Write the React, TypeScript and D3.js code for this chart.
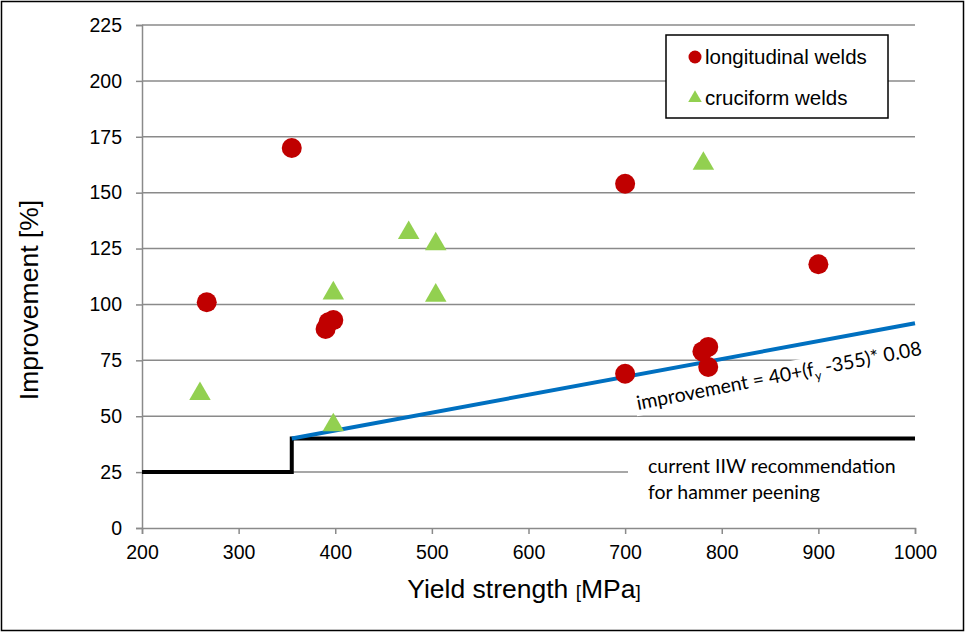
import * as d3 from 'd3';
import { useEffect, useRef } from 'react';

const longX = [267, 355, 390, 393, 398, 700, 700, 780, 786, 786, 900];
const longY = [101, 170, 89, 92, 93, 154, 69, 79, 81, 72, 118];
const crossX = [260, 398, 398, 476, 504, 504, 781];
const crossY = [60, 105, 46, 132, 127, 104, 163];
const xTicks = [200, 300, 400, 500, 600, 700, 800, 900, 1000];
const yTicks = [0, 25, 50, 75, 100, 125, 150, 175, 200, 225];
// IIW step and fitted line
const iiwX = [200, 355, 355, 1000];
const iiwY = [25, 25, 40, 40];
const fitX = [355, 1000];

const App = () => {
    const ref = useRef<SVGSVGElement>(null);

    useEffect(() => {
        const width = 965;
        const height = 632;
        const svg = d3.select(ref.current);
        svg.selectAll('*').remove();

        const x = d3.scaleLinear().domain([200, 1000]).range([142, 915]);
        const y = d3.scaleLinear().domain([0, 225]).range([528, 25]);
        const grey = '#8a8a8a';
        const arial = "'Liberation Sans', Arial, sans-serif";
        const calibri = "Lato, 'Open Sans', sans-serif";

        svg.append('rect')
            .attr('x', 1.5).attr('y', 1.5)
            .attr('width', width - 3).attr('height', height - 3)
            .attr('fill', '#fff').attr('stroke', '#000').attr('stroke-width', 1.5);

        // gridlines
        svg.append('g')
            .selectAll('line')
            .data(yTicks.filter(d => d > 0))
            .enter().append('line')
            .attr('x1', x(200)).attr('x2', x(1000))
            .attr('y1', d => y(d)).attr('y2', d => y(d))
            .attr('stroke', grey).attr('stroke-width', 1.5);

        // axes
        const xAxis = svg.append('g')
            .attr('transform', `translate(0,${y(0)})`)
            .call(d3.axisBottom(x).tickValues(xTicks).tickSize(6).tickPadding(11).tickFormat(d3.format('d')));
        const yAxis = svg.append('g')
            .attr('transform', `translate(${x(200)},0)`)
            .call(d3.axisLeft(y).tickValues(yTicks).tickSize(6).tickPadding(14).tickFormat(d3.format('d')));
        [xAxis, yAxis].forEach(a => {
            a.select('.domain').attr('stroke', grey).attr('stroke-width', 1.5);
            a.selectAll('.tick line').attr('stroke', grey).attr('stroke-width', 1.5);
            a.selectAll('.tick text').attr('fill', '#000')
                .style('font-family', arial).style('font-size', '19.5px');
        });

        // white box behind IIW note
        svg.append('rect')
            .attr('x', 628).attr('y', 455).attr('width', 290).attr('height', 55)
            .attr('fill', '#fff');

        const line = d3.line<[number, number]>().x(d => x(d[0])).y(d => y(d[1]));

        svg.append('path')
            .datum(iiwX.map((v, i) => [v, iiwY[i]] as [number, number]))
            .attr('d', line)
            .attr('fill', 'none').attr('stroke', '#000').attr('stroke-width', 4);

        svg.append('path')
            .datum(fitX.map(v => [v, 40 + (v - 355) * 0.08] as [number, number]))
            .attr('d', line)
            .attr('fill', 'none').attr('stroke', '#0070c0').attr('stroke-width', 4);

        // formula label
        const formula = svg.append('g')
            .attr('transform', 'translate(638,410) rotate(-11)');
        formula.append('rect')
            .attr('x', -2).attr('y', -19).attr('width', 292).attr('height', 25)
            .attr('fill', '#fff');
        const ft = formula.append('text')
            .style('font-family', calibri).style('font-size', '19.5px').attr('fill', '#000');
        ft.append('tspan').text('improvement = 40+(f');
        ft.append('tspan').attr('dy', 5).style('font-size', '12.5px').text('y');
        ft.append('tspan').attr('dy', -5).text(' -355)* 0.08');

        svg.append('text')
            .attr('x', 648).attr('y', 473)
            .style('font-family', calibri).style('font-size', '19.5px')
            .text('current IIW recommendation');
        svg.append('text')
            .attr('x', 648).attr('y', 499)
            .style('font-family', calibri).style('font-size', '19.5px')
            .text('for hammer peening');

        // points
        svg.append('g')
            .selectAll('circle')
            .data(longX.map((v, i) => [v, longY[i]]))
            .enter().append('circle')
            .attr('cx', d => x(d[0])).attr('cy', d => y(d[1]))
            .attr('r', 10).attr('fill', '#c00000');

        const tri = d3.symbol().type(d3.symbolTriangle).size(200);
        svg.append('g')
            .selectAll('path')
            .data(crossX.map((v, i) => [v, crossY[i]]))
            .enter().append('path')
            .attr('d', tri)
            .attr('transform', d => `translate(${x(d[0])},${y(d[1])})`)
            .attr('fill', '#92d050');

        // legend
        const legend = svg.append('g');
        legend.append('rect')
            .attr('x', 666).attr('y', 35).attr('width', 222).attr('height', 83)
            .attr('fill', '#fff').attr('stroke', '#000').attr('stroke-width', 1.5);
        legend.append('circle').attr('cx', 695).attr('cy', 57).attr('r', 6.5).attr('fill', '#c00000');
        legend.append('path')
            .attr('d', d3.symbol().type(d3.symbolTriangle).size(80))
            .attr('transform', 'translate(695,98)').attr('fill', '#92d050');
        legend.append('text').attr('x', 705).attr('y', 64)
            .style('font-family', arial).style('font-size', '20.5px').text('longitudinal welds');
        legend.append('text').attr('x', 705).attr('y', 105)
            .style('font-family', arial).style('font-size', '20.5px').text('cruciform welds');

        // axis titles
        const xt = svg.append('text')
            .attr('x', 524).attr('y', 598).attr('text-anchor', 'middle')
            .style('font-family', arial).style('font-size', '26.5px');
        xt.append('tspan').text('Yield strength ');
        xt.append('tspan').style('font-size', '19px').text('[');
        xt.append('tspan').text('MPa');
        xt.append('tspan').style('font-size', '19px').text(']');

        svg.append('text')
            .attr('transform', 'translate(38,300) rotate(-90)')
            .attr('text-anchor', 'middle')
            .style('font-family', arial).style('font-size', '26.5px')
            .text('Improvement [%]');
    }, []);

    return (
        <div style={{ position: 'absolute', left: 0, top: 0 }}>
            <svg ref={ref} width={965} height={632} style={{ display: 'block' }} />
        </div>
    );
};

export default App;
